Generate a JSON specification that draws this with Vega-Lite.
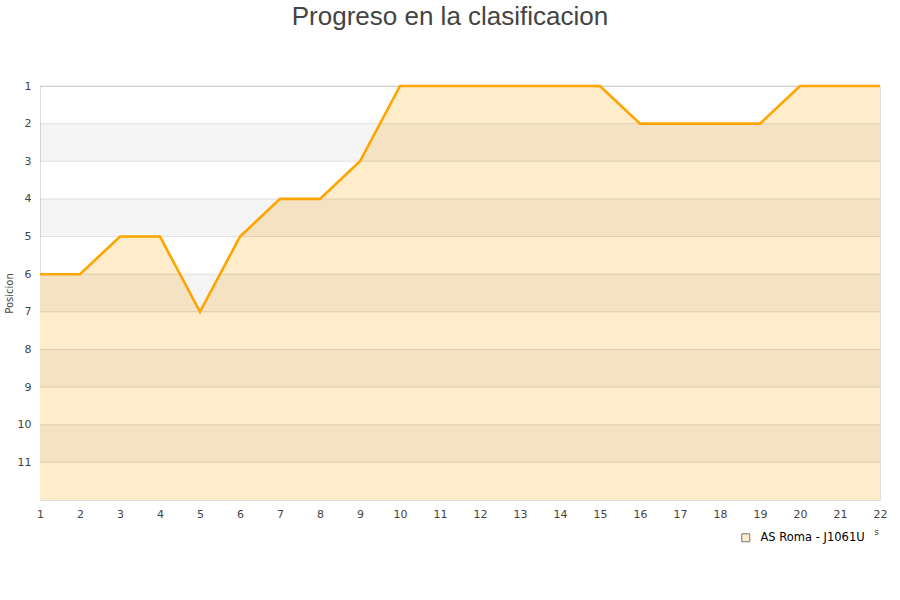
{
  "$schema": "https://vega.github.io/schema/vega-lite/v6.json",
  "width": 840,
  "height": 414,
  "autosize": {"type": "none"},
  "padding": {"left": 40, "top": 86, "right": 20, "bottom": 100},
  "background": "white",
  "title": {
    "text": "Progreso en la clasificacion",
    "font": "Liberation Sans",
    "fontSize": 26,
    "fontWeight": "normal",
    "color": "#444444",
    "anchor": "middle",
    "dx": -10,
    "offset": 50
  },
  "config": {
    "view": {"stroke": "#dddddd", "strokeWidth": 1},
    "font": "DejaVu Sans",
    "axis": {
      "grid": false,
      "ticks": false,
      "domain": false,
      "labelFont": "DejaVu Sans",
      "labelFontSize": 11,
      "labelColor": "#444444",
      "labelOverlap": false,
      "labelFlush": false
    },
    "axisX": {"labelPadding": 8},
    "axisY": {"labelPadding": 9}
  },
  "datasets": {
    "jornadas": [
      {"jornada": 1, "posicion": 6, "equipo": "AS Roma - J1061U"},
      {"jornada": 2, "posicion": 6, "equipo": "AS Roma - J1061U"},
      {"jornada": 3, "posicion": 5, "equipo": "AS Roma - J1061U"},
      {"jornada": 4, "posicion": 5, "equipo": "AS Roma - J1061U"},
      {"jornada": 5, "posicion": 7, "equipo": "AS Roma - J1061U"},
      {"jornada": 6, "posicion": 5, "equipo": "AS Roma - J1061U"},
      {"jornada": 7, "posicion": 4, "equipo": "AS Roma - J1061U"},
      {"jornada": 8, "posicion": 4, "equipo": "AS Roma - J1061U"},
      {"jornada": 9, "posicion": 3, "equipo": "AS Roma - J1061U"},
      {"jornada": 10, "posicion": 1, "equipo": "AS Roma - J1061U"},
      {"jornada": 11, "posicion": 1, "equipo": "AS Roma - J1061U"},
      {"jornada": 12, "posicion": 1, "equipo": "AS Roma - J1061U"},
      {"jornada": 13, "posicion": 1, "equipo": "AS Roma - J1061U"},
      {"jornada": 14, "posicion": 1, "equipo": "AS Roma - J1061U"},
      {"jornada": 15, "posicion": 1, "equipo": "AS Roma - J1061U"},
      {"jornada": 16, "posicion": 2, "equipo": "AS Roma - J1061U"},
      {"jornada": 17, "posicion": 2, "equipo": "AS Roma - J1061U"},
      {"jornada": 18, "posicion": 2, "equipo": "AS Roma - J1061U"},
      {"jornada": 19, "posicion": 2, "equipo": "AS Roma - J1061U"},
      {"jornada": 20, "posicion": 1, "equipo": "AS Roma - J1061U"},
      {"jornada": 21, "posicion": 1, "equipo": "AS Roma - J1061U"},
      {"jornada": 22, "posicion": 1, "equipo": "AS Roma - J1061U"}
    ],
    "bandas": [
      {"desde": 2, "hasta": 3},
      {"desde": 4, "hasta": 5},
      {"desde": 6, "hasta": 7},
      {"desde": 8, "hasta": 9},
      {"desde": 10, "hasta": 11}
    ],
    "rejilla": [
      {"valor": 1}, {"valor": 2}, {"valor": 3}, {"valor": 4},
      {"valor": 5}, {"valor": 6}, {"valor": 7}, {"valor": 8},
      {"valor": 9}, {"valor": 10}, {"valor": 11}
    ]
  },
  "layer": [
    {
      "data": {"name": "jornadas"},
      "mark": {"type": "area", "opacity": 1, "interpolate": "linear"},
      "encoding": {
        "x": {
          "field": "jornada",
          "type": "quantitative",
          "scale": {"domain": [1, 22], "nice": false, "zero": false},
          "axis": {
            "values": [1,2,3,4,5,6,7,8,9,10,11,12,13,14,15,16,17,18,19,20,21,22],
            "title": "s",
            "titleFont": "DejaVu Sans",
            "titleFontSize": 9,
            "titleFontWeight": "normal",
            "titleColor": "#444444",
            "titleX": 836,
            "titleY": 36,
            "titleBaseline": "bottom",
            "titleAlign": "center",
            "format": "d"
          }
        },
        "y": {
          "field": "posicion",
          "type": "quantitative",
          "scale": {"domain": [1, 12], "reverse": true, "nice": false, "zero": false},
          "axis": {
            "values": [1,2,3,4,5,6,7,8,9,10,11],
            "title": "Posicion",
            "titleFont": "DejaVu Sans",
            "titleFontSize": 10,
            "titleFontWeight": "normal",
            "titleColor": "#444444",
            "titleX": -26,
            "titleY": 207,
            "titleAngle": -90,
            "titleBaseline": "bottom",
            "titleAlign": "center",
            "format": "d"
          }
        },
        "y2": {"datum": 12},
        "fill": {
          "field": "equipo",
          "type": "nominal",
          "scale": {"range": ["#ffecca"]},
          "legend": {
            "title": null,
            "orient": "none",
            "legendX": 700,
            "legendY": 446,
            "symbolType": "square",
            "symbolSize": 64,
            "symbolStrokeColor": "#777777",
            "symbolStrokeWidth": 1,
            "labelFont": "DejaVu Sans",
            "labelFontSize": 11.5,
            "labelColor": "#000000",
            "labelOffset": 9
          }
        }
      }
    },
    {
      "data": {"name": "bandas"},
      "mark": {"type": "rect", "color": "#000000", "opacity": 0.04},
      "encoding": {
        "y": {"field": "desde", "type": "quantitative"},
        "y2": {"field": "hasta"}
      }
    },
    {
      "data": {"name": "rejilla"},
      "mark": {"type": "rule", "color": "#000000", "opacity": 0.11, "strokeWidth": 1},
      "encoding": {
        "y": {"field": "valor", "type": "quantitative"}
      }
    },
    {
      "data": {"name": "jornadas"},
      "mark": {"type": "line", "color": "#ffa500", "strokeWidth": 2.6, "interpolate": "linear"},
      "encoding": {
        "x": {
          "field": "jornada",
          "type": "quantitative",
          "axis": {
            "values": [1,2,3,4,5,6,7,8,9,10,11,12,13,14,15,16,17,18,19,20,21,22],
            "title": "s",
            "format": "d"
          }
        },
        "y": {"field": "posicion", "type": "quantitative"}
      }
    }
  ]
}
